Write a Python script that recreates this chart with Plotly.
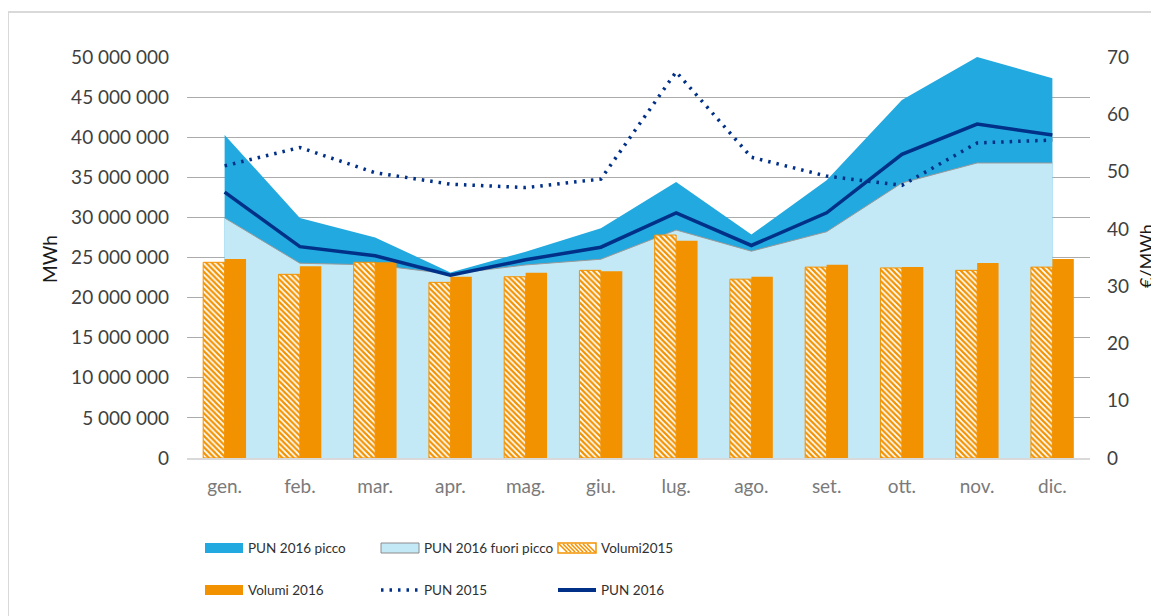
import plotly.graph_objects as go

# ---------------- data ----------------
months = ["gen.", "feb.", "mar.", "apr.", "mag.", "giu.", "lug.", "ago.", "set.", "ott.", "nov.", "dic."]
pun2016_picco = [56.4, 41.9, 38.5, 32.4, 36.0, 40.1, 48.2, 39.0, 48.5, 62.5, 70.0, 66.3]
pun2016_fuori_picco = [41.9, 34.0, 33.7, 32.1, 33.7, 34.7, 39.8, 36.1, 39.5, 48.0, 51.5, 51.5]
pun2016 = [46.4, 36.9, 35.3, 31.9, 34.6, 36.8, 42.8, 37.1, 42.8, 53.0, 58.3, 56.4]
pun2015 = [51.0, 54.2, 49.8, 47.8, 47.2, 48.7, 67.4, 52.5, 49.2, 47.6, 55.0, 55.5]
volumi2015 = [24400000, 22900000, 24400000, 21900000, 22600000, 23400000,
              27800000, 22300000, 23800000, 23700000, 23400000, 23800000]
volumi2016 = [24800000, 23900000, 24400000, 22600000, 23100000, 23300000,
              27100000, 22600000, 24100000, 23800000, 24300000, 24800000]
left_tickvals = [0, 5000000, 10000000, 15000000, 20000000, 25000000,
                 30000000, 35000000, 40000000, 45000000, 50000000]
left_ticktext = ["0", "5 000 000", "10 000 000", "15 000 000", "20 000 000", "25 000 000",
                 "30 000 000", "35 000 000", "40 000 000", "45 000 000", "50 000 000"]
right_tickvals = [0, 10, 20, 30, 40, 50, 60, 70]
legend_labels = ["PUN 2016 picco", "PUN 2016 fuori picco", "Volumi2015",
                 "Volumi 2016", "PUN 2015", "PUN 2016"]

# ---------------- style ----------------
C_PICCO = "#22A9DF"
C_FUORI = "#C4E9F6"
C_ORANGE = "#F39200"
C_NAVY = "#003087"
TICK_FONT = dict(family="Lato, Open Sans, sans-serif", size=19, color="#3f3f3f")
CAT_FONT = dict(family="Lato, Open Sans, sans-serif", size=19, color="#7a7a7a")
LEG_FONT = dict(family="Lato, sans-serif", size=13.5, color="#303030")
DOT_DASH = "2.5px,6px"

# page is shown with an 8px body margin -> compensate
OFF = 8
PAGE_W, PAGE_H = 1159, 616
FIG_W, FIG_H = PAGE_W - OFF, PAGE_H - OFF
# plot area in page pixels
L, R, T, B = 187, 1090, 57, 458


def px_x(x):
    return (x - L) / (R - L)


def px_y(y):
    return (B - y) / (B - T)


fig = go.Figure()

# areas (primary y axis: €/MWh, shown on the right)
fig.add_trace(go.Scatter(x=months, y=pun2016_picco, name=legend_labels[0], mode="lines",
                         fill="tozeroy", fillcolor=C_PICCO, line=dict(width=0, color=C_PICCO),
                         yaxis="y", showlegend=False))
fig.add_trace(go.Scatter(x=months, y=pun2016_fuori_picco, name=legend_labels[1], mode="lines",
                         fill="tozeroy", fillcolor=C_FUORI, line=dict(width=1, color="#9a9a9a"),
                         yaxis="y", showlegend=False))

# bars (MWh, on left)
fig.add_trace(go.Bar(x=months, y=volumi2015, name=legend_labels[2], yaxis="y2",
                     marker=dict(color=C_ORANGE, line=dict(color=C_ORANGE, width=1),
                                 pattern=dict(shape="\\", fgcolor=C_ORANGE, bgcolor="white",
                                              size=4, solidity=0.55, fillmode="replace")),
                     showlegend=False))
fig.add_trace(go.Bar(x=months, y=volumi2016, name=legend_labels[3], yaxis="y2",
                     marker=dict(color=C_ORANGE, line=dict(width=0)),
                     showlegend=False))

# lines (on top)
fig.add_trace(go.Scatter(x=months, y=pun2015, name=legend_labels[4], mode="lines",
                         line=dict(color=C_NAVY, width=3.5, dash=DOT_DASH),
                         yaxis="y3", showlegend=False))
fig.add_trace(go.Scatter(x=months, y=pun2016, name=legend_labels[5], mode="lines",
                         line=dict(color=C_NAVY, width=3.5),
                         yaxis="y3", showlegend=False))

fig.update_layout(
    width=FIG_W, height=FIG_H,
    margin=dict(l=L - OFF, r=FIG_W - (R - OFF), t=T - OFF, b=FIG_H - (B - OFF)),
    paper_bgcolor="white", plot_bgcolor="white",
    barmode="group", bargap=0.43, bargroupgap=0,
    showlegend=False,
    xaxis=dict(type="category", range=[-0.5, 11.5], showgrid=False, showline=True,
               linecolor="#d9d9d9", linewidth=1.5, ticks="", tickfont=CAT_FONT,
               ticklabelstandoff=10, zeroline=False),
    yaxis=dict(range=[0, 70], side="right", tickvals=right_tickvals, showgrid=False,
               zeroline=False, showline=False, tickfont=TICK_FONT, ticklabelstandoff=16),
    yaxis2=dict(range=[0, 50000000], overlaying="y", side="left", tickvals=left_tickvals,
                ticktext=left_ticktext, showgrid=True, gridcolor="#ababab", gridwidth=1,
                zeroline=False, showline=False, tickfont=TICK_FONT, ticklabelstandoff=17),
    yaxis3=dict(range=[0, 70], overlaying="y", visible=False),
)

# axis titles
fig.add_annotation(text="MWh", xref="paper", yref="paper", x=px_x(50), y=px_y(259),
                   textangle=-90, showarrow=False, xanchor="center", yanchor="middle",
                   font=dict(family="Lato, sans-serif", size=19, color="#1a1a1a"))
fig.add_annotation(text="€/MWh", xref="paper", yref="paper", x=px_x(1146), y=px_y(256),
                   textangle=-90, showarrow=False, xanchor="center", yanchor="middle",
                   font=dict(family="Lato, sans-serif", size=18, color="#1a1a1a"))

# outer chart border
fig.add_shape(type="rect", xref="paper", yref="paper", x0=px_x(8), x1=px_x(1175),
              y0=px_y(640), y1=px_y(12), line=dict(color="#d9d9d9", width=2),
              fillcolor="rgba(0,0,0,0)", layer="below")

# ---------------- manual legend ----------------
cols = [205, 381, 558]
rows = [548, 590]
sw_w, sw_h = 38, 10


def swatch_rect(x0, yc, fill, line_color, line_w):
    fig.add_shape(type="rect", xref="paper", yref="paper",
                  x0=px_x(x0), x1=px_x(x0 + sw_w), y0=px_y(yc + sw_h / 2), y1=px_y(yc - sw_h / 2),
                  fillcolor=fill, line=dict(color=line_color, width=line_w))


swatch_rect(cols[0], rows[0], C_PICCO, C_PICCO, 0)
swatch_rect(cols[1], rows[0], C_FUORI, "#8c8c8c", 1)
# hatched swatch
swatch_rect(cols[2], rows[0], "white", C_ORANGE, 1.5)
for k in range(0, sw_w - 7, 4):
    x0 = cols[2] + 1 + k
    fig.add_shape(type="line", xref="paper", yref="paper",
                  x0=px_x(x0), x1=px_x(x0 + 8), y0=px_y(rows[0] - 4), y1=px_y(rows[0] + 4),
                  line=dict(color=C_ORANGE, width=1.6))
swatch_rect(cols[0], rows[1], C_ORANGE, C_ORANGE, 0)
fig.add_shape(type="line", xref="paper", yref="paper", x0=px_x(cols[1]), x1=px_x(cols[1] + sw_w),
              y0=px_y(rows[1]), y1=px_y(rows[1]), line=dict(color=C_NAVY, width=3.5, dash=DOT_DASH))
fig.add_shape(type="line", xref="paper", yref="paper", x0=px_x(cols[2]), x1=px_x(cols[2] + sw_w),
              y0=px_y(rows[1]), y1=px_y(rows[1]), line=dict(color=C_NAVY, width=4))

for i, lab in enumerate(legend_labels):
    r, c = divmod(i, 3)
    fig.add_annotation(text=lab, xref="paper", yref="paper", x=px_x(cols[c] + sw_w + 3),
                       y=px_y(rows[r]), xanchor="left", yanchor="middle", showarrow=False,
                       font=LEG_FONT)

fig.write_html("out.html")
